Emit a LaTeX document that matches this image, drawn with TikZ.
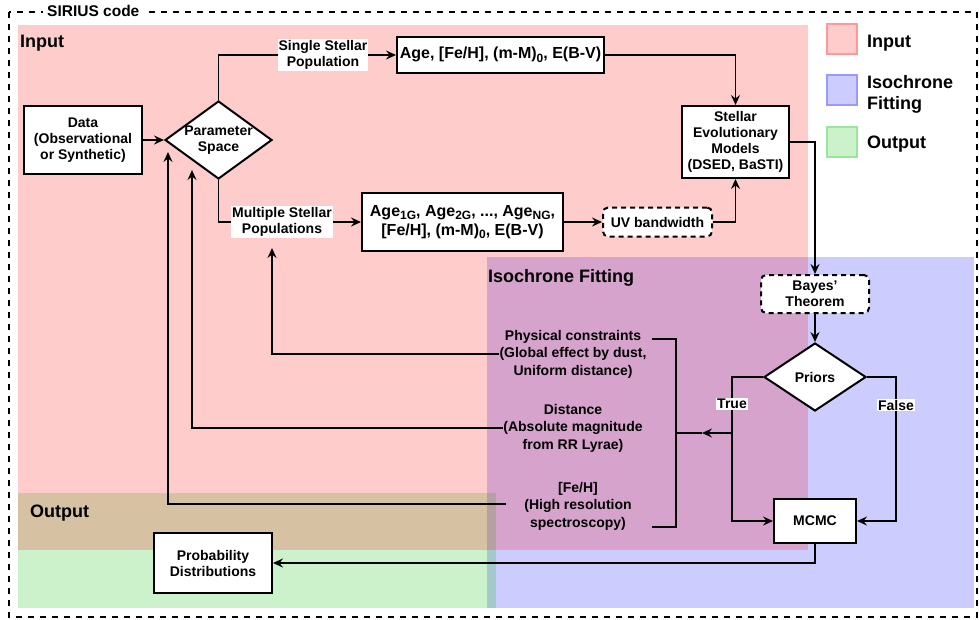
\documentclass[tikz,border=0pt]{standalone}
\usepackage{fontspec}
\setmainfont{Liberation Sans}
\usetikzlibrary{arrows.meta,shapes.geometric}
\definecolor{gfill}{RGB}{0,190,0}
\definecolor{pinkbox}{RGB}{255,204,204}
\definecolor{bluebox}{RGB}{204,204,255}
\definecolor{greenbox}{RGB}{204,242,204}
\definecolor{pinkline}{RGB}{255,153,153}
\definecolor{blueline}{RGB}{153,153,255}
\definecolor{greenline}{RGB}{153,229,153}
\newcommand{\mysub}[1]{\raisebox{-3.5pt}{\fontsize{12}{12}\selectfont #1}}
\begin{document}
\begin{tikzpicture}[x=1pt,y=-1pt,
  txt/.style={font=\bfseries\fontsize{14}{16}\selectfont, align=center},
  ctxt/.style={font=\bfseries\fontsize{14}{17.5}\selectfont, align=center, inner sep=0pt},
  agetxt/.style={font=\bfseries\fontsize{16}{19}\selectfont, align=center},
  box/.style={draw, line width=2pt, fill=white, inner sep=0pt, txt},
  dbox/.style={box, dash pattern=on 5pt off 4pt, rounded corners=5pt},
  dia/.style={diamond, draw, line width=2pt, fill=white, inner sep=0pt},
  conn/.style={line width=1.8pt, -{Stealth[length=10pt,width=9pt,inset=3.5pt]}},
  plain/.style={line width=1.8pt},
  lbl/.style={txt, fill=white, inner sep=1pt},
  regtitle/.style={font=\bfseries\fontsize{18}{21}\selectfont, anchor=base west, inner sep=0pt, align=left},
  legbox/.style={line width=1.5pt, minimum width=30pt, minimum height=30pt, inner sep=0pt}
]
\useasboundingbox (0,0) rectangle (979,619);
% regions
\fill[blue, opacity=0.2] (487,257) rectangle (974,608);
\fill[gfill, opacity=0.2] (18,493) rectangle (496,608);
\fill[red, opacity=0.2] (18,25) rectangle (808,550);
% outer dashed border
\draw[line width=1.8pt, dash pattern=on 6pt off 6pt] (9,12) rectangle (977,617);
\node[font=\bfseries\fontsize{15.5}{18}\selectfont, fill=white, inner xsep=4pt, inner ysep=1pt, anchor=base west] (sirius) at (43,16) {SIRIUS code};
% region titles
\node[regtitle] (tin) at (20,47) {Input};
\node[regtitle] (tout) at (30,517) {Output};
\node[regtitle] (tiso) at (488,282) {Isochrone Fitting};
% legend
\node[legbox, draw=pinkline, fill=pinkbox] (lg1) at (842,39) {};
\node[legbox, draw=blueline, fill=bluebox] (lg2) at (842,90) {};
\node[legbox, draw=greenline, fill=greenbox] (lg3) at (842,142) {};
\node[regtitle] (lt1) at (867,47) {Input};
\node[regtitle] (lt2) at (867,109) {Isochrone\\Fitting};
\node[regtitle] (lt3) at (867,148) {Output};
% nodes
\node[box, minimum width=118pt, minimum height=68pt] (data) at (83,140) {Data\\(Observational\\or Synthetic)};
\node[dia, minimum width=107pt, minimum height=78pt, label={[txt]center:Parameter\\Space}] (ps) at (218.5,140) {};
\node[box, agetxt, minimum width=207pt, minimum height=36pt] (ssp) at (500.5,55) {Age, {[Fe/H]}, (m-M)\mysub{0}, E(B-V)};
\node[box, agetxt, minimum width=201pt, minimum height=58pt] (agem) at (462.5,222) {Age\mysub{1G}, Age\mysub{2G}, ..., Age\mysub{NG},\\{[Fe/H]}, (m-M)\mysub{0}, E(B-V)};
\node[dbox, minimum width=109pt, minimum height=29pt] (uv) at (657.5,222) {UV bandwidth};
\node[box, minimum width=107pt, minimum height=72pt] (sem) at (735.5,142) {Stellar\\Evolutionary\\Models\\(DSED, BaSTI)};
\node[dbox, minimum width=108pt, minimum height=38pt] (bayes) at (815,294) {Bayes'\\Theorem};
\node[dia, minimum width=102pt, minimum height=68pt, label={[txt]center:Priors}] (priors) at (815,377) {};
\node[box, minimum width=82pt, minimum height=44pt] (mcmc) at (815,521) {MCMC};
\node[box, minimum width=118pt, minimum height=60pt] (prob) at (213,563) {Probability\\Distributions};
% constraint texts
\node[ctxt] (pc) at (573,354) {Physical constraints\\(Global effect by dust,\\Uniform distance)};
\node[ctxt] (dist) at (573,428) {Distance\\(Absolute magnitude\\from RR Lyrae)};
\node[ctxt] (feh) at (578,506) {{[Fe/H]}\\(High resolution\\spectroscopy)};
% coordinates
\coordinate (pcup) at (272,248);
\coordinate (dup) at (192,170);
\coordinate (fehL) at (506,504);
\coordinate (fup) at (168,152);
\coordinate (tl) at (732,377);
\coordinate (fr) at (896,377);
\coordinate (tm) at (732,433);
\coordinate (tip) at (702,433);
\coordinate (bm) at (676,433);
\coordinate (b1) at (652,339);
\coordinate (b2) at (676,339);
\coordinate (b3) at (676,527);
\coordinate (b4) at (652,527);
% connectors
\draw[conn] (data.east) -- (ps.west);
\draw[conn] (ps.north) |- (ssp.west);
\draw[conn] (ps.south) |- (agem.west);
\node[lbl] (lsingle) at (323,55) {Single Stellar\\Population};
\node[lbl] (lmulti) at (282,222) {Multiple Stellar\\Populations};
\draw[conn] (ssp.east) -| (sem.north);
\draw[conn] (agem.east) -- (uv.west);
\draw[conn] (uv.east) -| (sem.south);
\draw[conn] (sem.east) -| (bayes.north);
\draw[conn] (bayes.south) -- (priors.north);
\draw[conn] (priors.west) -- (tl) |- (mcmc.west);
\draw[conn] (priors.east) -- (fr) |- (mcmc.east);
\node[lbl] (ltrue) at (732,404) {True};
\node[lbl] (lfalse) at (896,405) {False};
\draw[conn] (tm) -- (tip);
\draw[plain] (tip) -- (bm);
\draw[plain] (b1) -- (b2) -- (b3) -- (b4);
\draw[conn] (pc.west) -| (pcup);
\draw[conn] (dist.west) -| (dup);
\draw[conn] (fehL) -| (fup);
\draw[conn] (mcmc.south) |- (prob.east);
\end{tikzpicture}
\end{document}
